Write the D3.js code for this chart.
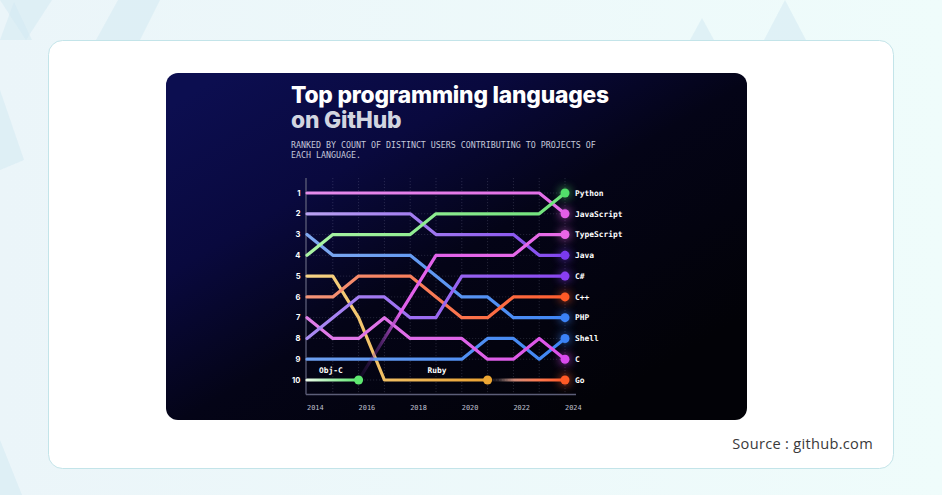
<!DOCTYPE html>
<html>
<head>
<meta charset="utf-8">
<script src="https://cdn.jsdelivr.net/npm/d3@7"></script>
<style>
    html, body { margin: 0; padding: 0; background: #f0f9fa; }
    svg { display: block; }
</style>
</head>
<body>
<svg id="chart" width="942" height="495"></svg>
<script>
//  Ranks per year (null = not in the top 10 / not drawn)
const years = [2014, 2015, 2016, 2017, 2018, 2019, 2020, 2021, 2022, 2023, 2024];
const rankPython     = [4, 3, 3, 3, 3, 2, 2, 2, 2, 2, 1];
const rankJavaScript = [1, 1, 1, 1, 1, 1, 1, 1, 1, 1, 2];
const rankTypeScript = [null, null, 10, 8, 6, 4, 4, 4, 4, 3, 3];
const rankJava       = [2, 2, 2, 2, 2, 3, 3, 3, 3, 4, 4];
const rankCSharp     = [8, 7, 6, 6, 7, 7, 5, 5, 5, 5, 5];
const rankCpp        = [6, 6, 5, 5, 5, 6, 7, 7, 6, 6, 6];
const rankPHP        = [3, 4, 4, 4, 4, 5, 6, 6, 7, 7, 7];
const rankShell      = [9, 9, 9, 9, 9, 9, 9, 8, 8, 9, 8];
const rankC          = [7, 8, 8, 7, 8, 8, 8, 9, 9, 8, 9];
const rankGo         = [null, null, null, null, null, null, null, 10, 10, 10, 10];
const rankRuby       = [5, 5, 7, 10, 10, 10, 10, 10, null, null, null];
const rankObjC       = [10, 10, 10, null, null, null, null, null, null, null, null];

const rankTicks = [1, 2, 3, 4, 5, 6, 7, 8, 9, 10];
const yearTicks = [2014, 2016, 2018, 2020, 2022, 2024];

const seriesNames = ['Ruby', 'Obj-C', 'Shell', 'C', 'PHP', 'C++', 'C#', 'Go', 'Java', 'TypeScript', 'JavaScript', 'Python'];
const seriesRanks = [rankRuby, rankObjC, rankShell, rankC, rankPHP, rankCpp, rankCSharp, rankGo, rankJava, rankTypeScript, rankJavaScript, rankPython];
const droppedOut = ['Ruby', 'Obj-C'];


//  Colours: [start of line, end of line, end dot]
const palette = {
    'Python':     ['#aaf4a4', '#6ee27a', '#52e06a'],
    'JavaScript': ['#e58cec', '#e46ce8', '#e35fe8'],
    'TypeScript': ['#e060ea', '#e86ce8', '#ea66e6'],
    'Java':       ['#b9a2f2', '#8248ee', '#7a3aee'],
    'C#':         ['#a98af2', '#8a48f0', '#8a3ef2'],
    'C++':        ['#f39478', '#ff5e30', '#ff5a26'],
    'PHP':        ['#7fa9f0', '#3f86f4', '#3b82f6'],
    'Shell':      ['#6d9ff0', '#3f86f4', '#3b82f6'],
    'C':          ['#e07ee8', '#dc52e8', '#d94aee'],
    'Go':         ['#ff7a50', '#ff5a2a', '#ff5a26'],
    'Ruby':       ['#f6d487', '#eaa233', '#eca634'],
    'Obj-C':      ['#eafbe8', '#5ee870', '#5ee870']
};


function drawChart() {

    const svg = d3.select('#chart');
    const defs = svg.append('defs');

    //======================================
    //  Page background + decoration
    //======================================
    const pageGrad = defs.append('linearGradient').attr('id', 'page-bg')
        .attr('x1', 0).attr('y1', 0).attr('x2', 1).attr('y2', 0);
    pageGrad.append('stop').attr('offset', 0).attr('stop-color', '#ebf5f9');
    pageGrad.append('stop').attr('offset', 1).attr('stop-color', '#effcfb');

    svg.append('rect')
        .attr('width', 942).attr('height', 495)
        .attr('fill', 'url(#page-bg)');

    const triangles = [
        [[0, 40], [14, 2], [32, 40]],
        [[0, 0], [52, 0], [26, 40]],
        [[96, 40], [118, 0], [160, 0], [140, 40]],
        [[0, 90], [24, 160], [0, 170]],
        [[690, 40], [702, 18], [714, 40]],
        [[764, 40], [785, 0], [806, 40]],
        [[0, 440], [22, 495], [0, 495]]
    ];
    svg.append('g')
        .selectAll('polygon')
        .data(triangles)
        .enter()
        .append('polygon')
        .attr('points', d => d.map(p => p.join(',')).join(' '))
        .attr('fill', '#d3e9f2')
        .attr('opacity', 0.55);

    svg.append('rect')
        .attr('x', 48.5).attr('y', 40.5)
        .attr('width', 845).attr('height', 428)
        .attr('rx', 14).attr('ry', 14)
        .attr('fill', '#ffffff')
        .attr('stroke', '#c3e4e9')
        .attr('stroke-width', 1);

    svg.append('text')
        .text('Source : github.com')
        .attr('x', 873).attr('y', 449)
        .attr('text-anchor', 'end')
        .attr('font-family', '"Open Sans", "Noto Sans", sans-serif')
        .attr('font-size', 14.6)
        .attr('letter-spacing', 0.3)
        .attr('fill', '#3a3a3a');


    //======================================
    //  Dark card
    //======================================
    const cardGrad = defs.append('linearGradient').attr('id', 'card-bg')
        .attr('x1', 0).attr('y1', 0.1).attr('x2', 0.8).attr('y2', 0.9);
    cardGrad.append('stop').attr('offset', 0).attr('stop-color', '#0c0e50');
    cardGrad.append('stop').attr('offset', 0.3).attr('stop-color', '#09093e');
    cardGrad.append('stop').attr('offset', 0.58).attr('stop-color', '#040417');
    cardGrad.append('stop').attr('offset', 1).attr('stop-color', '#020207');

    svg.append('rect')
        .attr('x', 166).attr('y', 73)
        .attr('width', 581).attr('height', 347)
        .attr('rx', 12).attr('ry', 12)
        .attr('fill', 'url(#card-bg)');


    //======================================
    //  Title
    //======================================
    svg.append('text')
        .text('Top programming languages')
        .attr('x', 291).attr('y', 102.5)
        .attr('font-family', 'Inter, "Noto Sans", sans-serif')
        .attr('font-weight', 800)
        .attr('font-size', 22.8)
        .attr('letter-spacing', -0.2)
        .attr('fill', '#ffffff');

    svg.append('text')
        .text('on GitHub')
        .attr('x', 291).attr('y', 127.5)
        .attr('font-family', 'Inter, "Noto Sans", sans-serif')
        .attr('font-weight', 800)
        .attr('font-size', 22.8)
        .attr('letter-spacing', -0.2)
        .attr('fill', '#d2d5e0');

    const subtitle = ['RANKED BY COUNT OF DISTINCT USERS CONTRIBUTING TO PROJECTS OF', 'EACH LANGUAGE.'];
    svg.append('g')
        .selectAll('text')
        .data(subtitle)
        .enter()
        .append('text')
        .text(d => d)
        .attr('x', 291)
        .attr('y', (d, i) => 147.5 + i * 10)
        .attr('font-family', '"DejaVu Sans Mono", monospace')
        .attr('font-size', 8.3)
        .attr('fill', '#c4c8da');


    //======================================
    //  Scales
    //======================================
    const xScale = d3.scaleLinear()
        .domain([2014, 2024])
        .range([307, 565]);

    const yScale = d3.scaleLinear()
        .domain([1, 10])
        .range([193, 380]);


    //======================================
    //  Grid
    //======================================
    const grid = svg.append('g').attr('id', 'grid');

    grid.selectAll('.vgrid')
        .data(years.slice(1))
        .enter()
        .append('line')
        .attr('class', 'vgrid')
        .attr('x1', d => xScale(d)).attr('x2', d => xScale(d))
        .attr('y1', 178).attr('y2', 394)
        .attr('stroke', 'rgba(200,205,230,0.22)')
        .attr('stroke-width', 0.8)
        .attr('stroke-dasharray', '1.2,1.8');

    grid.selectAll('.hgrid')
        .data(rankTicks)
        .enter()
        .append('line')
        .attr('class', 'hgrid')
        .attr('x1', 307).attr('x2', 565)
        .attr('y1', d => yScale(d)).attr('y2', d => yScale(d))
        .attr('stroke', 'rgba(200,205,230,0.2)')
        .attr('stroke-width', 0.8)
        .attr('stroke-dasharray', '1.2,1.8');

    //  Axis lines
    svg.append('line')
        .attr('x1', 306).attr('x2', 306)
        .attr('y1', 178).attr('y2', 394.5)
        .attr('stroke', '#5c5e78').attr('stroke-width', 1.3);
    svg.append('line')
        .attr('x1', 306).attr('x2', 576)
        .attr('y1', 394.5).attr('y2', 394.5)
        .attr('stroke', '#5c5e78').attr('stroke-width', 1.3);

    //  Rank labels
    svg.append('g')
        .selectAll('text')
        .data(rankTicks)
        .enter()
        .append('text')
        .text(d => d)
        .attr('x', 300.5)
        .attr('y', d => yScale(d) + 2.7)
        .attr('text-anchor', 'end')
        .attr('font-family', 'Inter, "Noto Sans", sans-serif')
        .attr('font-weight', 700)
        .attr('font-size', 7.6)
        .attr('fill', '#ffffff');

    //  Year labels
    svg.append('g')
        .selectAll('text')
        .data(yearTicks)
        .enter()
        .append('text')
        .text(d => d)
        .attr('x', d => xScale(d))
        .attr('y', 410)
        .attr('font-family', '"DejaVu Sans Mono", monospace')
        .attr('font-size', 6.9)
        .attr('fill', '#c0c2d2');


    //======================================
    //  Gradients + glow
    //======================================
    const glow = defs.append('filter').attr('id', 'glow')
        .attr('x', '-200%').attr('y', '-200%')
        .attr('width', '500%').attr('height', '500%');
    glow.append('feGaussianBlur').attr('stdDeviation', 4);

    const series = seriesNames.map((name, i) => {
        const points = years.map((yr, j) => ({ year: yr, rank: seriesRanks[i][j] }))
            .filter(p => p.rank !== null);
        return { name, points };
    });

    series.forEach((s, i) => {
        const cols = palette[s.name];
        const first = s.points[0].year;
        const last = s.points[s.points.length - 1].year;
        const g = defs.append('linearGradient')
            .attr('id', `grad-${i}`)
            .attr('gradientUnits', 'userSpaceOnUse')
            .attr('x1', xScale(first)).attr('x2', xScale(last))
            .attr('y1', 0).attr('y2', 0);

        if (s.name === 'TypeScript') {
            g.append('stop').attr('offset', 0).attr('stop-color', '#6a2e8a').attr('stop-opacity', 0.1);
            g.append('stop').attr('offset', 0.1).attr('stop-color', '#8a3ab0').attr('stop-opacity', 0.45);
            g.append('stop').attr('offset', 0.2).attr('stop-color', cols[0]).attr('stop-opacity', 1);
            g.append('stop').attr('offset', 1).attr('stop-color', cols[1]);
        }
        else if (s.name === 'Go') {
            g.append('stop').attr('offset', 0).attr('stop-color', '#ffd0c0').attr('stop-opacity', 0);
            g.append('stop').attr('offset', 0.14).attr('stop-color', '#ffd2c2').attr('stop-opacity', 0.15);
            g.append('stop').attr('offset', 0.35).attr('stop-color', '#f6a088').attr('stop-opacity', 0.85);
            g.append('stop').attr('offset', 0.65).attr('stop-color', cols[0]);
            g.append('stop').attr('offset', 1).attr('stop-color', cols[1]);
        }
        else {
            g.append('stop').attr('offset', 0).attr('stop-color', cols[0]);
            g.append('stop').attr('offset', 1).attr('stop-color', cols[1]);
        }
    });


    //======================================
    //  Lines
    //======================================
    const line = d3.line()
        .x(d => xScale(d.year))
        .y(d => yScale(d.rank));

    svg.append('g')
        .attr('id', 'lines')
        .selectAll('path')
        .data(series)
        .enter()
        .append('path')
        .attr('d', d => line(d.points))
        .attr('fill', 'none')
        .attr('stroke', (d, i) => `url(#grad-${i})`)
        .attr('stroke-width', 3.2)
        .attr('stroke-linejoin', 'round')
        .attr('stroke-linecap', 'round');


    //======================================
    //  End dots + labels
    //======================================
    const ends = series.map(s => ({ name: s.name, p: s.points[s.points.length - 1] }));

    const dots = svg.append('g').attr('id', 'dots');

    dots.selectAll('.halo')
        .data(ends.filter(d => droppedOut.indexOf(d.name) < 0))
        .enter()
        .append('circle')
        .attr('class', 'halo')
        .attr('cx', d => xScale(d.p.year))
        .attr('cy', d => yScale(d.p.rank))
        .attr('r', 6)
        .attr('fill', d => palette[d.name][2])
        .attr('opacity', 0.55)
        .attr('filter', 'url(#glow)');

    dots.selectAll('.dot')
        .data(ends)
        .enter()
        .append('circle')
        .attr('class', 'dot')
        .attr('cx', d => xScale(d.p.year))
        .attr('cy', d => yScale(d.p.rank))
        .attr('r', 4.5)
        .attr('fill', d => palette[d.name][2]);

    svg.append('g')
        .attr('id', 'end-labels')
        .selectAll('text')
        .data(ends.filter(d => droppedOut.indexOf(d.name) < 0))
        .enter()
        .append('text')
        .text(d => d.name)
        .attr('x', 575)
        .attr('y', d => yScale(d.p.rank) + 2.8)
        .attr('font-family', '"DejaVu Sans Mono", monospace')
        .attr('font-weight', 700)
        .attr('font-size', 7.9)
        .attr('fill', '#ffffff');

    //  Labels of languages that fell out of the top 10
    const outLabels = [
        { name: 'Obj-C', years: [2014, 2016] },
        { name: 'Ruby', years: [2017, 2021] }
    ];
    svg.append('g')
        .selectAll('text')
        .data(outLabels)
        .enter()
        .append('text')
        .text(d => d.name)
        .attr('x', d => d.name === 'Obj-C' ? xScale(2015) - 2 : xScale(2019) + 1)
        .attr('y', yScale(10) - 7.5)
        .attr('text-anchor', 'middle')
        .attr('font-family', '"DejaVu Sans Mono", monospace')
        .attr('font-weight', 700)
        .attr('font-size', 7.9)
        .attr('fill', '#ffffff');
}

document.addEventListener('DOMContentLoaded', drawChart);
</script>
</body>
</html>
